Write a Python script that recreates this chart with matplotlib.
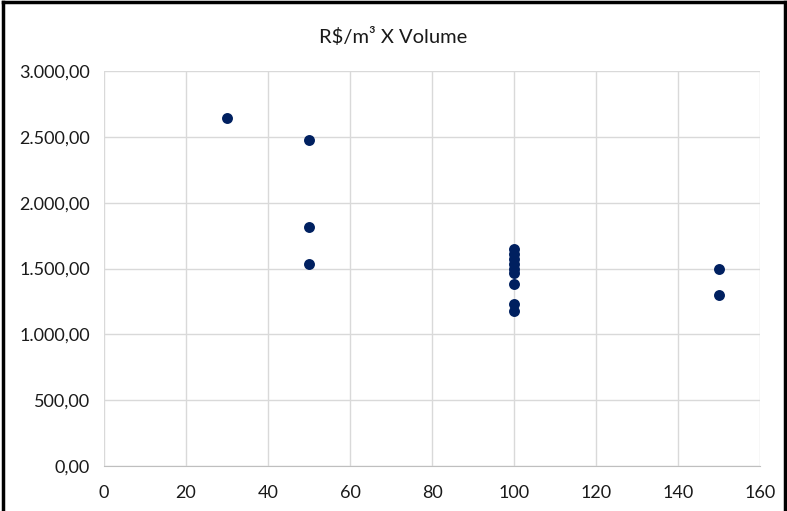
import matplotlib.pyplot as plt
from matplotlib.ticker import FuncFormatter, MultipleLocator
from matplotlib.lines import Line2D

# volume (m3) and price per m3 (R$)
volume = [30, 50, 50, 50, 100, 100, 100, 100, 100, 100, 100, 100, 100, 150, 150]
preco_m3 = [2640, 2475, 1815, 1535, 1650, 1610, 1575, 1535, 1500, 1465, 1380, 1230, 1180, 1500, 1300]

title = "R$/m³ X Volume"

plt.rcParams['font.family'] = ['Lato', 'DejaVu Sans']


def br_format(v, pos):
    # brazilian number format: 1.500,00
    s = f"{v:,.2f}"
    return s.replace(",", "X").replace(".", ",").replace("X", ".")


fig = plt.figure(figsize=(7.87, 5.11), dpi=100)
ax = fig.add_axes([0.132, 0.088, 0.834, 0.773])

ax.scatter(volume, preco_m3, s=62, color="#002060", zorder=3, linewidths=0)

ax.set_xlim(0, 160)
ax.set_ylim(0, 3000)
ax.xaxis.set_major_locator(MultipleLocator(20))
ax.yaxis.set_major_locator(MultipleLocator(500))
ax.yaxis.set_major_formatter(FuncFormatter(br_format))

ax.grid(True, color="#d9d9d9", linewidth=1)
ax.set_axisbelow(True)
for side in ["top", "right", "left"]:
    ax.spines[side].set_visible(False)
ax.spines["bottom"].set_color("#bfbfbf")
ax.tick_params(length=0, labelsize=13, colors="#1a1a1a")
ax.tick_params(axis="x", pad=14)
ax.tick_params(axis="y", pad=10)

fig.text(0.5, 0.928, title, ha="center", va="center", fontsize=14.5, color="#1a1a1a")

# black frame around the chart
kw = dict(transform=fig.transFigure, color="black", linewidth=2.5)
fig.add_artist(Line2D([0.004, 0.004], [0, 0.997], **kw))
fig.add_artist(Line2D([0.004, 0.997], [0.997, 0.997], **kw))
fig.add_artist(Line2D([0.997, 0.997], [0, 0.997], **kw))

fig.savefig("out.png", dpi=100)
